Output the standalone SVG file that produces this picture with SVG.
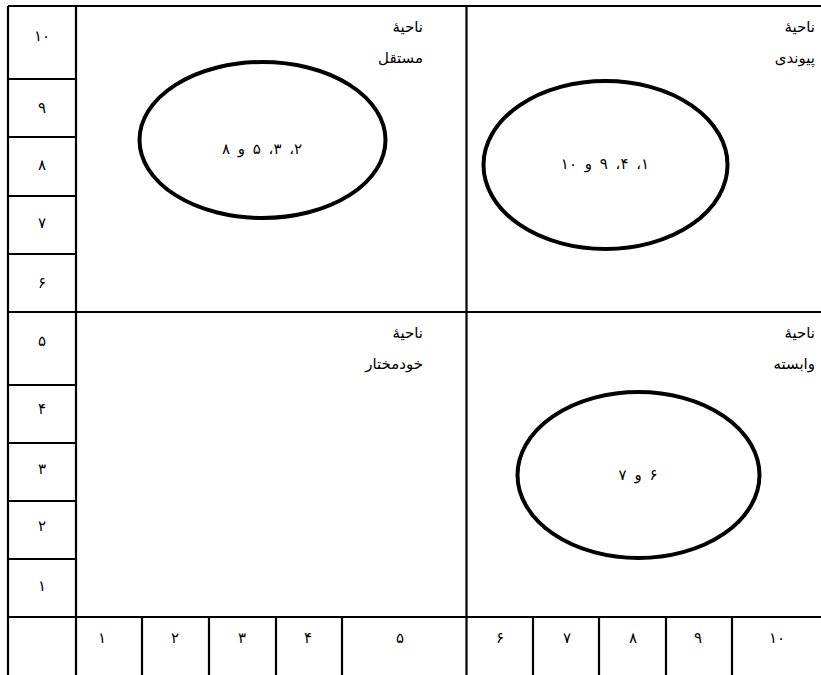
<svg xmlns="http://www.w3.org/2000/svg" width="821" height="675" viewBox="0 0 821 675">
<style>
.ln{stroke:#000;stroke-width:2.2;fill:none}
.el{stroke:#000;stroke-width:4;fill:none}
text{font-family:"DejaVu Sans",sans-serif;font-size:15px;fill:#000}
.c{text-anchor:middle}
.r{direction:rtl;text-anchor:start}
.m{direction:rtl;text-anchor:middle;word-spacing:3px}
</style>
<rect width="821" height="675" fill="#fff"/>
<g id="grid">
<line class="ln" x1="8" y1="6" x2="821" y2="6"/>
<line class="ln" x1="8" y1="6" x2="8" y2="675"/>
<line class="ln" x1="76" y1="6" x2="76" y2="675"/>
<line class="ln" x1="466.5" y1="6" x2="466.5" y2="675"/>
<line class="ln" x1="8" y1="312" x2="821" y2="312"/>
<line class="ln" x1="8" y1="617" x2="821" y2="617"/>
<line class="ln" x1="8" y1="79" x2="76" y2="79"/>
<line class="ln" x1="8" y1="137" x2="76" y2="137"/>
<line class="ln" x1="8" y1="196" x2="76" y2="196"/>
<line class="ln" x1="8" y1="254" x2="76" y2="254"/>
<line class="ln" x1="8" y1="385" x2="76" y2="385"/>
<line class="ln" x1="8" y1="443" x2="76" y2="443"/>
<line class="ln" x1="8" y1="501" x2="76" y2="501"/>
<line class="ln" x1="8" y1="559" x2="76" y2="559"/>
<line class="ln" x1="142" y1="617" x2="142" y2="675"/>
<line class="ln" x1="209" y1="617" x2="209" y2="675"/>
<line class="ln" x1="276" y1="617" x2="276" y2="675"/>
<line class="ln" x1="342" y1="617" x2="342" y2="675"/>
<line class="ln" x1="533" y1="617" x2="533" y2="675"/>
<line class="ln" x1="599" y1="617" x2="599" y2="675"/>
<line class="ln" x1="666" y1="617" x2="666" y2="675"/>
<line class="ln" x1="732" y1="617" x2="732" y2="675"/>
</g>
<g id="y-axis">
<text class="c" x="42" y="41">۱۰</text>
<text class="c" x="42" y="113">۹</text>
<text class="c" x="42" y="170">۸</text>
<text class="c" x="42" y="228">۷</text>
<text class="c" x="42" y="288">۶</text>
<text class="c" x="42" y="346">۵</text>
<text class="c" x="42" y="414">۴</text>
<text class="c" x="42" y="474">۳</text>
<text class="c" x="42" y="531">۲</text>
<text class="c" x="42" y="591">۱</text>
</g>
<g id="x-axis">
<text class="c" x="102" y="643">۱</text>
<text class="c" x="175" y="643">۲</text>
<text class="c" x="242" y="643">۳</text>
<text class="c" x="308" y="643">۴</text>
<text class="c" x="400" y="643">۵</text>
<text class="c" x="500" y="643">۶</text>
<text class="c" x="567" y="643">۷</text>
<text class="c" x="633" y="643">۸</text>
<text class="c" x="698" y="643">۹</text>
<text class="c" x="777" y="643">۱۰</text>
</g>
<g id="region-independent">
<text class="r" x="423" y="32">ناحیهٔ</text>
<text class="r" x="423" y="63">مستقل</text>
<ellipse class="el" cx="262.5" cy="140" rx="123" ry="78"/>
<text class="m" x="262" y="154">۲، ۳، ۵ و ۸</text>
</g>
<g id="region-linked">
<text class="r" x="815" y="32">ناحیهٔ</text>
<text class="r" x="815" y="63">پیوندی</text>
<ellipse class="el" cx="605.5" cy="165" rx="122" ry="84"/>
<text class="m" x="605" y="169">۱، ۴، ۹ و ۱۰</text>
</g>
<g id="region-autonomous">
<text class="r" x="423" y="338">ناحیهٔ</text>
<text class="r" x="423" y="369">خودمختار</text>
</g>
<g id="region-dependent">
<text class="r" x="815" y="338">ناحیهٔ</text>
<text class="r" x="815" y="369">وابسته</text>
<ellipse class="el" cx="638.5" cy="475" rx="121" ry="83"/>
<text class="m" x="638" y="480">۶ و ۷</text>
</g>
</svg>
